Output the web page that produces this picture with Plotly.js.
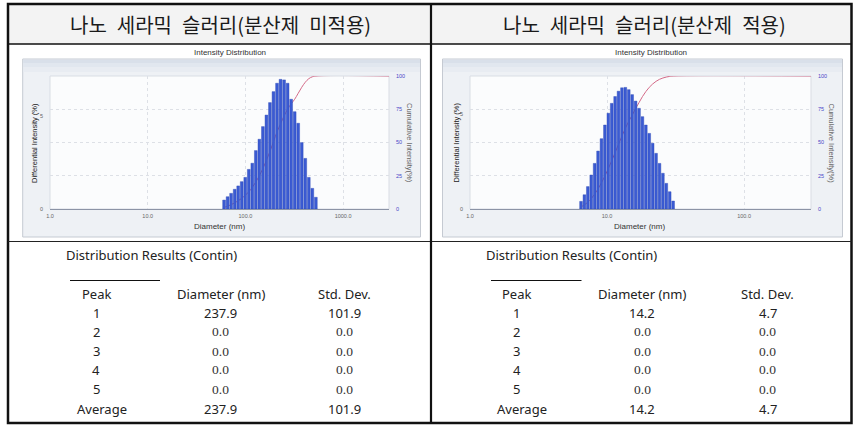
<!DOCTYPE html>
<html><head><meta charset="utf-8">
<script src="https://cdn.plot.ly/plotly-3.0.1.min.js"></script>
<style>html,body{margin:0;padding:0;background:#fff}#c{width:865px;height:439px}</style>
</head><body><div id="c"></div>
<script>
// ---------- data ----------
const headerLeft = "나노 세라믹 슬러리(분산제 미적용)";
const headerRight = "나노 세라믹 슬러리(분산제 적용)";
const chartTitle = "Intensity Distribution";
const xTitle = "Diameter (nm)";
const yTitleLeft = "Differential Intensity (%)";
const yTitleRight = "Cumulative Intensity(%)";

// left chart (without dispersant)
const diamLeft = [60.5,65.7,71.4,77.7,84.4,91.7,99.7,108.3,117.7,127.9,139.0,151.1,164.2,178.4,193.9,210.7,228.9,248.9,270.5,293.9,319.4,347.1,377.2,410.0,445.6,484.2,526.2];
const intensityLeft = [0.48,0.66,0.84,1.06,1.24,1.47,1.70,2.13,2.46,3.14,3.75,4.43,5.05,5.72,6.31,6.76,6.97,6.94,6.76,5.90,5.23,4.61,3.57,2.72,1.70,1.11,0.63];
const cumDiamLeft = [60.5,65.7,71.4,77.7,84.4,91.7,99.7,108.3,117.7,127.9,139.0,151.1,164.2,178.4,193.9,210.7,228.9,248.9,270.5,293.9,319.4,347.1,377.2,410.0,445.6,484.2,526.2,2950];
const cumLeft = [1.2,2.1,3.3,4.6,6.2,8.0,10.3,12.9,16.3,20.3,25.0,30.4,36.6,43.3,50.6,58.0,64.0,70.0,75.0,79.0,82.5,87.0,91.5,95.3,98.0,99.4,100,100];
const xTickValsLeft = [1,10,100,1000];
const xTickTextLeft = ["1.0","10.0","100.0","1000.0"];
const xMaxLeft = 2950;
const yMaxLeft = 7.15;

// right chart (with dispersant)
const diamRight = [6.46,6.84,7.24,7.67,8.12,8.60,9.11,9.65,10.22,10.82,11.46,12.13,12.85,13.61,14.41,15.26,16.16,17.12,18.13,19.20,20.33,21.53,22.80,24.15,25.57,27.08,28.67,30.37];
const intensityRight = [0.40,0.75,1.18,1.79,2.40,3.05,3.70,4.42,5.04,5.56,5.92,6.20,6.38,6.40,6.28,6.02,5.68,5.30,4.86,4.42,3.98,3.46,2.93,2.40,1.88,1.35,0.91,0.42];
const cumDiamRight = [6.46,6.84,7.24,7.67,8.12,8.60,9.11,9.65,10.22,10.82,11.46,12.13,12.85,13.61,14.41,15.26,16.16,17.12,18.13,19.20,20.33,21.53,22.80,24.15,25.57,27.08,28.67,30.37,308];
const cumRight = [1.6,3.1,5.1,7.8,11.1,15.1,19.7,24.8,30.4,36.3,42.4,48.6,54.8,60.7,66.0,70.5,75.5,80.0,84.5,88.3,91.5,94.0,96.0,97.5,98.5,99.2,99.7,100,100];
const xTickValsRight = [1,10,100];
const xTickTextRight = ["1.0","10.0","100.0"];
const xMaxRight = 308;
const yMaxRight = 7.0;

const cumTicks = [0,25,50,75,100];
const diffTicks = [0,5];

// results tables
const tableTitle = "Distribution Results (Contin)";
const colHeaders = ["Peak","Diameter (nm)","Std. Dev."];
const peakLabels = ["1","2","3","4","5","Average"];
const diamResLeft = ["237.9","0.0","0.0","0.0","0.0","237.9"];
const stdResLeft = ["101.9","0.0","0.0","0.0","0.0","101.9"];
const diamResRight = ["14.2","0.0","0.0","0.0","0.0","14.2"];
const stdResRight = ["4.7","0.0","0.0","0.0","0.0","4.7"];

// ---------- helpers ----------
const W = 865, H = 439;
const px = x => x / W;
const py = y => 1 - y / H;
const lg = a => a.map(v => Math.log10(v));

const BAR = '#3b5bd3', BARLINE = '#2c47b3', CUM = '#d46a88';
const TICKF = {family:'Arial, Liberation Sans', size:5.5, color:'#666'};
const TICKFR = {family:'Arial, Liberation Sans', size:5.5, color:'#4848c8'};
const GRID = '#dde0e6';

const traces = [
  {type:'scatter', mode:'lines', x:lg(cumDiamLeft), y:cumLeft, xaxis:'x', yaxis:'y',
   line:{color:CUM, width:1, shape:'spline'}, hoverinfo:'skip'},
  {type:'bar', x:lg(diamLeft), y:intensityLeft, xaxis:'x', yaxis:'y2',
   marker:{color:BAR, line:{color:BARLINE, width:0.4}}, hoverinfo:'skip'},
  {type:'scatter', mode:'lines', x:lg(cumDiamRight), y:cumRight, xaxis:'x2', yaxis:'y3',
   line:{color:CUM, width:1, shape:'spline'}, hoverinfo:'skip'},
  {type:'bar', x:lg(diamRight), y:intensityRight, xaxis:'x2', yaxis:'y4',
   marker:{color:BAR, line:{color:BARLINE, width:0.4}}, hoverinfo:'skip'}
];

function xax(dom, anchor, xmax, tv, tt){
  return {domain:dom, anchor:anchor, range:[0, Math.log10(xmax)], tickmode:'array',
    tickvals:lg(tv), ticktext:tt, showgrid:true, gridcolor:GRID, griddash:'dot', gridwidth:1,
    zeroline:false, showline:true, linecolor:'#8c94a6', linewidth:1, ticks:'', tickfont:TICKF,
    ticklabelstandoff:1, fixedrange:true};
}
function ycum(dom, anchor){
  return {domain:dom, anchor:anchor, side:'right', range:[0,100], tickmode:'array', tickvals:cumTicks,
    showgrid:true, gridcolor:GRID, griddash:'dot', zeroline:false, ticks:'', tickfont:TICKFR,
    ticklabelstandoff:6, fixedrange:true};
}
function ydiff(over, anchor, ymax){
  return {overlaying:over, anchor:anchor, side:'left', range:[0,ymax], tickmode:'array', tickvals:diffTicks,
    showgrid:false, zeroline:false, ticks:'', tickfont:TICKF, ticklabelstandoff:6, fixedrange:true};
}

const yDom = [py(209), py(76)];
const shapes = [];
const annotations = [];
function rect(x0,y0,x1,y1,fill,line,lw,layer){
  shapes.push({type:'rect', xref:'paper', yref:'paper', x0:px(x0), x1:px(x1), y0:py(y1), y1:py(y0),
    fillcolor:fill, line:{color:line||'rgba(0,0,0,0)', width:lw||0}, layer:layer||'below'});
}
function hline(x0,x1,y,color,w,layer){
  shapes.push({type:'line', xref:'paper', yref:'paper', x0:px(x0), x1:px(x1), y0:py(y), y1:py(y),
    line:{color:color, width:w}, layer:layer||'above'});
}
function vline(x,y0,y1,color,w,layer){
  shapes.push({type:'line', xref:'paper', yref:'paper', x0:px(x), x1:px(x), y0:py(y0), y1:py(y1),
    line:{color:color, width:w}, layer:layer||'above'});
}
function txt(t,x,y,font,opt){
  annotations.push(Object.assign({text:t, xref:'paper', yref:'paper', x:px(x), y:py(y), showarrow:false,
    xanchor:'center', yanchor:'middle', font:font}, opt||{}));
}

// header row
rect(8,4,851,44,'#f3f3f3');
// chart frames with a soft vertical gradient
[[22.7,420.5,50,389],[442.5,842.5,470,811]].forEach(([fx0,fx1,ax0,ax1])=>{
  rect(fx0,59,fx1,237,'#eef1f5','#c5cad2',1);
  rect(fx0+0.5,59.5,fx1-0.5,63,'#d9e0ea');
  rect(fx0+0.5,63,fx1-0.5,67,'#e1e7ef');
  rect(fx0+0.5,67,fx1-0.5,72,'#e8ecf2');
  rect(ax0,76,ax1,209,'#fbfcfd','#d9dde4',1);
});

// table lines
rect(8,4,851.5,423,'rgba(0,0,0,0)','#111',2.5,'above');
hline(8,851.5,44,'#111',1.5);
hline(8,851.5,241.5,'#222',1.2);
vline(431,4,423,'#111',2.2);

// headers (wider word spacing as in the original)
const HF = {family:'Noto Sans CJK KR', size:20, color:'#1a1a1a'};
const wide = s => s.replace(/ /g, '\u2002');
txt(wide(headerLeft),220,24.5,HF);
txt(wide(headerRight),644,24.5,HF);

// chart texts
const CT = {family:'Arial, Liberation Sans', size:8, color:'#333'};
txt(chartTitle,230,52.5,CT);
txt(chartTitle,651,52.5,CT);
txt(xTitle,219,226,CT);
txt(xTitle,639,226,CT);
const YT = {family:'Arial, Liberation Sans', size:7.5, color:'#222'};
const YTR = {family:'Arial, Liberation Sans', size:7.5, color:'#666'};
txt(yTitleLeft,34,143,YT,{textangle:-90});
txt(yTitleLeft,455.5,143,YT,{textangle:-90});
txt(yTitleRight,410,143,YTR,{textangle:90});
txt(yTitleRight,831.5,143,YTR,{textangle:90});

// results tables
const TF = {family:'Noto Sans', size:13, color:'#222'};
const NF = {family:'Liberation Serif', size:13.5, color:'#333'};
const rowY = [312.7,331.7,351,369.7,389,409];
function table(tx, ulx0, ulx1, cPeak, cAvg, cDiam, cStd, dvals, svals){
  txt(tableTitle, tx, 255, TF, {xanchor:'left'});
  hline(ulx0, ulx1, 280.5, '#111', 1);
  txt(colHeaders[0], cPeak, 294, TF);
  txt(colHeaders[1], cDiam, 294, TF);
  txt(colHeaders[2], cStd, 294, TF);
  peakLabels.forEach((p,i)=>{
    txt(p, i===5?cAvg:cPeak, rowY[i], TF);
    txt(dvals[i], cDiam, rowY[i], dvals[i]==='0.0'?NF:TF);
    txt(svals[i], cStd, rowY[i], svals[i]==='0.0'?NF:TF);
  });
}
table(64, 70, 160, 96, 101.7, 220.5, 344, diamResLeft, stdResLeft);
table(484, 491, 581.5, 516.5, 521.7, 642, 767.7, diamResRight, stdResRight);

const layout = {
  width:W, height:H, margin:{l:0,r:0,t:0,b:0},
  paper_bgcolor:'#ffffff', plot_bgcolor:'rgba(0,0,0,0)',
  showlegend:false, barmode:'overlay', bargap:0.2,
  xaxis: xax([px(50),px(389)],'y',xMaxLeft,xTickValsLeft,xTickTextLeft),
  yaxis: ycum(yDom,'x'),
  yaxis2: ydiff('y','x',yMaxLeft),
  xaxis2: xax([px(470),px(811)],'y3',xMaxRight,xTickValsRight,xTickTextRight),
  yaxis3: ycum(yDom,'x2'),
  yaxis4: ydiff('y3','x2',yMaxRight),
  shapes:shapes, annotations:annotations
};
Plotly.newPlot('c', traces, layout, {staticPlot:true, displayModeBar:false});
</script>
</body></html>
